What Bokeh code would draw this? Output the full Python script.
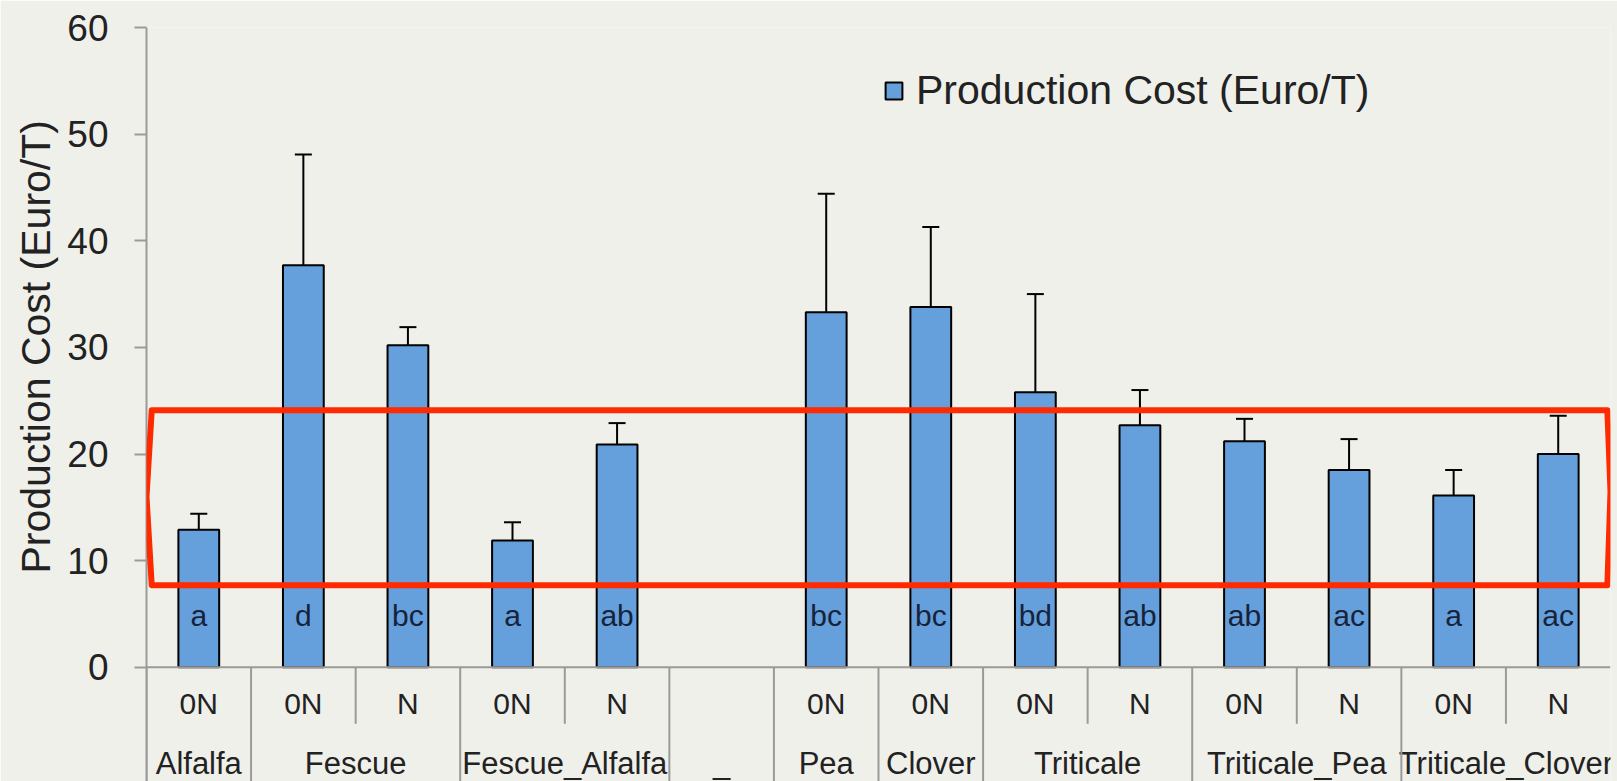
from bokeh.plotting import figure
from bokeh.models import (ColumnDataSource, FactorRange, Range1d, FixedTicker, Whisker,
                          TeeHead, Span, Legend, LegendItem, PolyAnnotation, Title)
from bokeh.core.properties import value
from bokeh.embed import file_html
from bokeh.resources import INLINE

# ---------------- data ----------------
groups = ["Alfalfa", "Fescue", "Fescue", "Fescue_Alfalfa", "Fescue_Alfalfa", "_",
          "Pea", "Clover", "Triticale", "Triticale", "Triticale_Pea", "Triticale_Pea",
          "Triticale_Clover", "Triticale_Clover"]
subgroups = ["0N", "0N", "N", "0N", "N", " ",
             "0N", "0N", "0N", "N", "0N", "N", "0N", "N"]
cost = [12.9, 37.7, 30.2, 11.9, 20.9, None,
        33.3, 33.8, 25.8, 22.7, 21.2, 18.5, 16.1, 20.0]
cost_err = [1.5, 10.4, 1.7, 1.7, 2.0, None,
            11.1, 7.5, 9.2, 3.3, 2.1, 2.9, 2.4, 3.6]
letters = ["a", "d", "bc", "a", "ab", "",
           "bc", "bc", "bd", "ab", "ab", "ac", "a", "ac"]
y_ticks = [0, 10, 20, 30, 40, 50, 60]
series_name = "Production Cost (Euro/T)"
y_title = "Production Cost (Euro/T)"
highlight_low, highlight_high = 7.7, 24.1

# ---------------- style / layout ----------------
FONT = "Liberation Sans"
BG = "#f0f0eb"
BAR = "#659fdc"
AXIS_GRAY = "#9a9a9a"
Y_START, Y_END = -10.71, 60
LETTER_Y = 4.9
SUB_LABEL_Y = -3.4
GROUP_LABEL_Y = -9.0
SHORT_SEP_Y = -5.3

factors = list(zip(groups, subgroups))
x_range = FactorRange(factors=factors, factor_padding=0, subgroup_padding=0,
                      group_padding=0, range_padding=0)

p = figure(width=1617, height=781, x_range=x_range, y_range=Range1d(Y_START, Y_END),
           output_backend="svg", toolbar_location=None, x_axis_location=None,
           min_border_left=146, min_border_right=7, min_border_top=27, min_border_bottom=0,
           background_fill_color=BG, border_fill_color=BG, outline_line_color=None)
p.grid.visible = False

# bars
idx = [i for i, v in enumerate(cost) if v is not None]
src = ColumnDataSource(dict(
    x=[factors[i] for i in idx],
    top=[cost[i] for i in idx],
    upper=[cost[i] + cost_err[i] for i in idx],
    label=[letters[i] for i in idx],
))
bars = p.vbar(x="x", top="top", bottom=0, width=0.39, source=src,
              fill_color=BAR, line_color="black", line_width=2)

whisk = Whisker(base="x", lower="top", upper="upper", source=src,
                line_color="black", line_width=2,
                upper_head=TeeHead(size=17, line_color="black", line_width=2),
                lower_head=None)
p.add_layout(whisk)

p.text(x="x", y=LETTER_Y, text="label", source=src, text_font=value(FONT),
       text_font_size="30px", text_align="center", text_baseline="middle",
       text_color="#17233a")

# x axis line at zero
p.add_layout(Span(location=0, dimension="width", line_color=AXIS_GRAY, line_width=2))

# category labels and separators (drawn below zero through the factor scale)
p.text(x=factors, y=[SUB_LABEL_Y] * len(factors), text=subgroups, text_font=value(FONT),
       text_font_size="30px", text_align="center", text_baseline="middle",
       text_color="#222222")

group_names, group_first, group_count = [], [], []
for g, s in factors:
    if group_names and group_names[-1] == g:
        group_count[-1] += 1
    else:
        group_names.append(g)
        group_first.append(s)
        group_count.append(1)
group_x = [(g, s, 0.5 * (n - 1)) for g, s, n in zip(group_names, group_first, group_count)]
p.text(x=group_x, y=[GROUP_LABEL_Y] * len(group_x), text=group_names, text_font=value(FONT),
       text_font_size="31px", text_align="center", text_baseline="middle",
       text_color="#222222")

long_x, short_x = [], []
prev = None
for g, s in factors:
    if g != prev:
        long_x.append((g, s, -0.5))
    else:
        short_x.append((g, s, -0.5))
    prev = g
p.segment(x0=long_x, y0=[0] * len(long_x), x1=long_x, y1=[Y_START] * len(long_x),
          line_color=AXIS_GRAY, line_width=2)
p.segment(x0=short_x, y0=[0] * len(short_x), x1=short_x, y1=[SHORT_SEP_Y] * len(short_x),
          line_color=AXIS_GRAY, line_width=2)

# y axis
ax = p.yaxis[0]
ax.ticker = FixedTicker(ticks=y_ticks)
ax.axis_line_color = AXIS_GRAY
ax.axis_line_width = 2
ax.major_tick_line_color = AXIS_GRAY
ax.major_tick_line_width = 2
ax.major_tick_out = 12
ax.major_tick_in = 0
ax.minor_tick_line_color = None
ax.major_label_standoff = 26
ax.major_label_text_font = FONT
ax.major_label_text_font_size = "37px"
ax.major_label_text_color = "#222222"

# y axis title (placed as a side title so it can be centred on the 0-60 span)
ytitle = Title(text=y_title, align="left", offset=208, text_font=FONT,
               text_font_size="41px", text_font_style="normal", text_color="#222222",
               standoff=11)
p.add_layout(ytitle, "left")

# legend
legend = Legend(items=[LegendItem(label=series_name, renderers=[bars])],
                location=(727, 657), label_text_font=FONT, label_text_font_size="41px",
                label_text_color="#222222", glyph_width=21, glyph_height=21,
                label_standoff=12, padding=10, spacing=0,
                background_fill_alpha=0, border_line_alpha=0)
p.add_layout(legend)

# hand-drawn red highlight box
n = len(factors)
box = PolyAnnotation(xs=[0.05, 0.0, 0.05, n - 0.03, n, n - 0.03],
                     ys=[highlight_high, 16.0, highlight_low, highlight_low, 16.5, highlight_high],
                     fill_alpha=0, line_color="#ff2a00", line_alpha=1.0, line_width=6,
                     line_join="round")
p.add_layout(box)

open("out.html", "w").write(file_html(p, INLINE))
